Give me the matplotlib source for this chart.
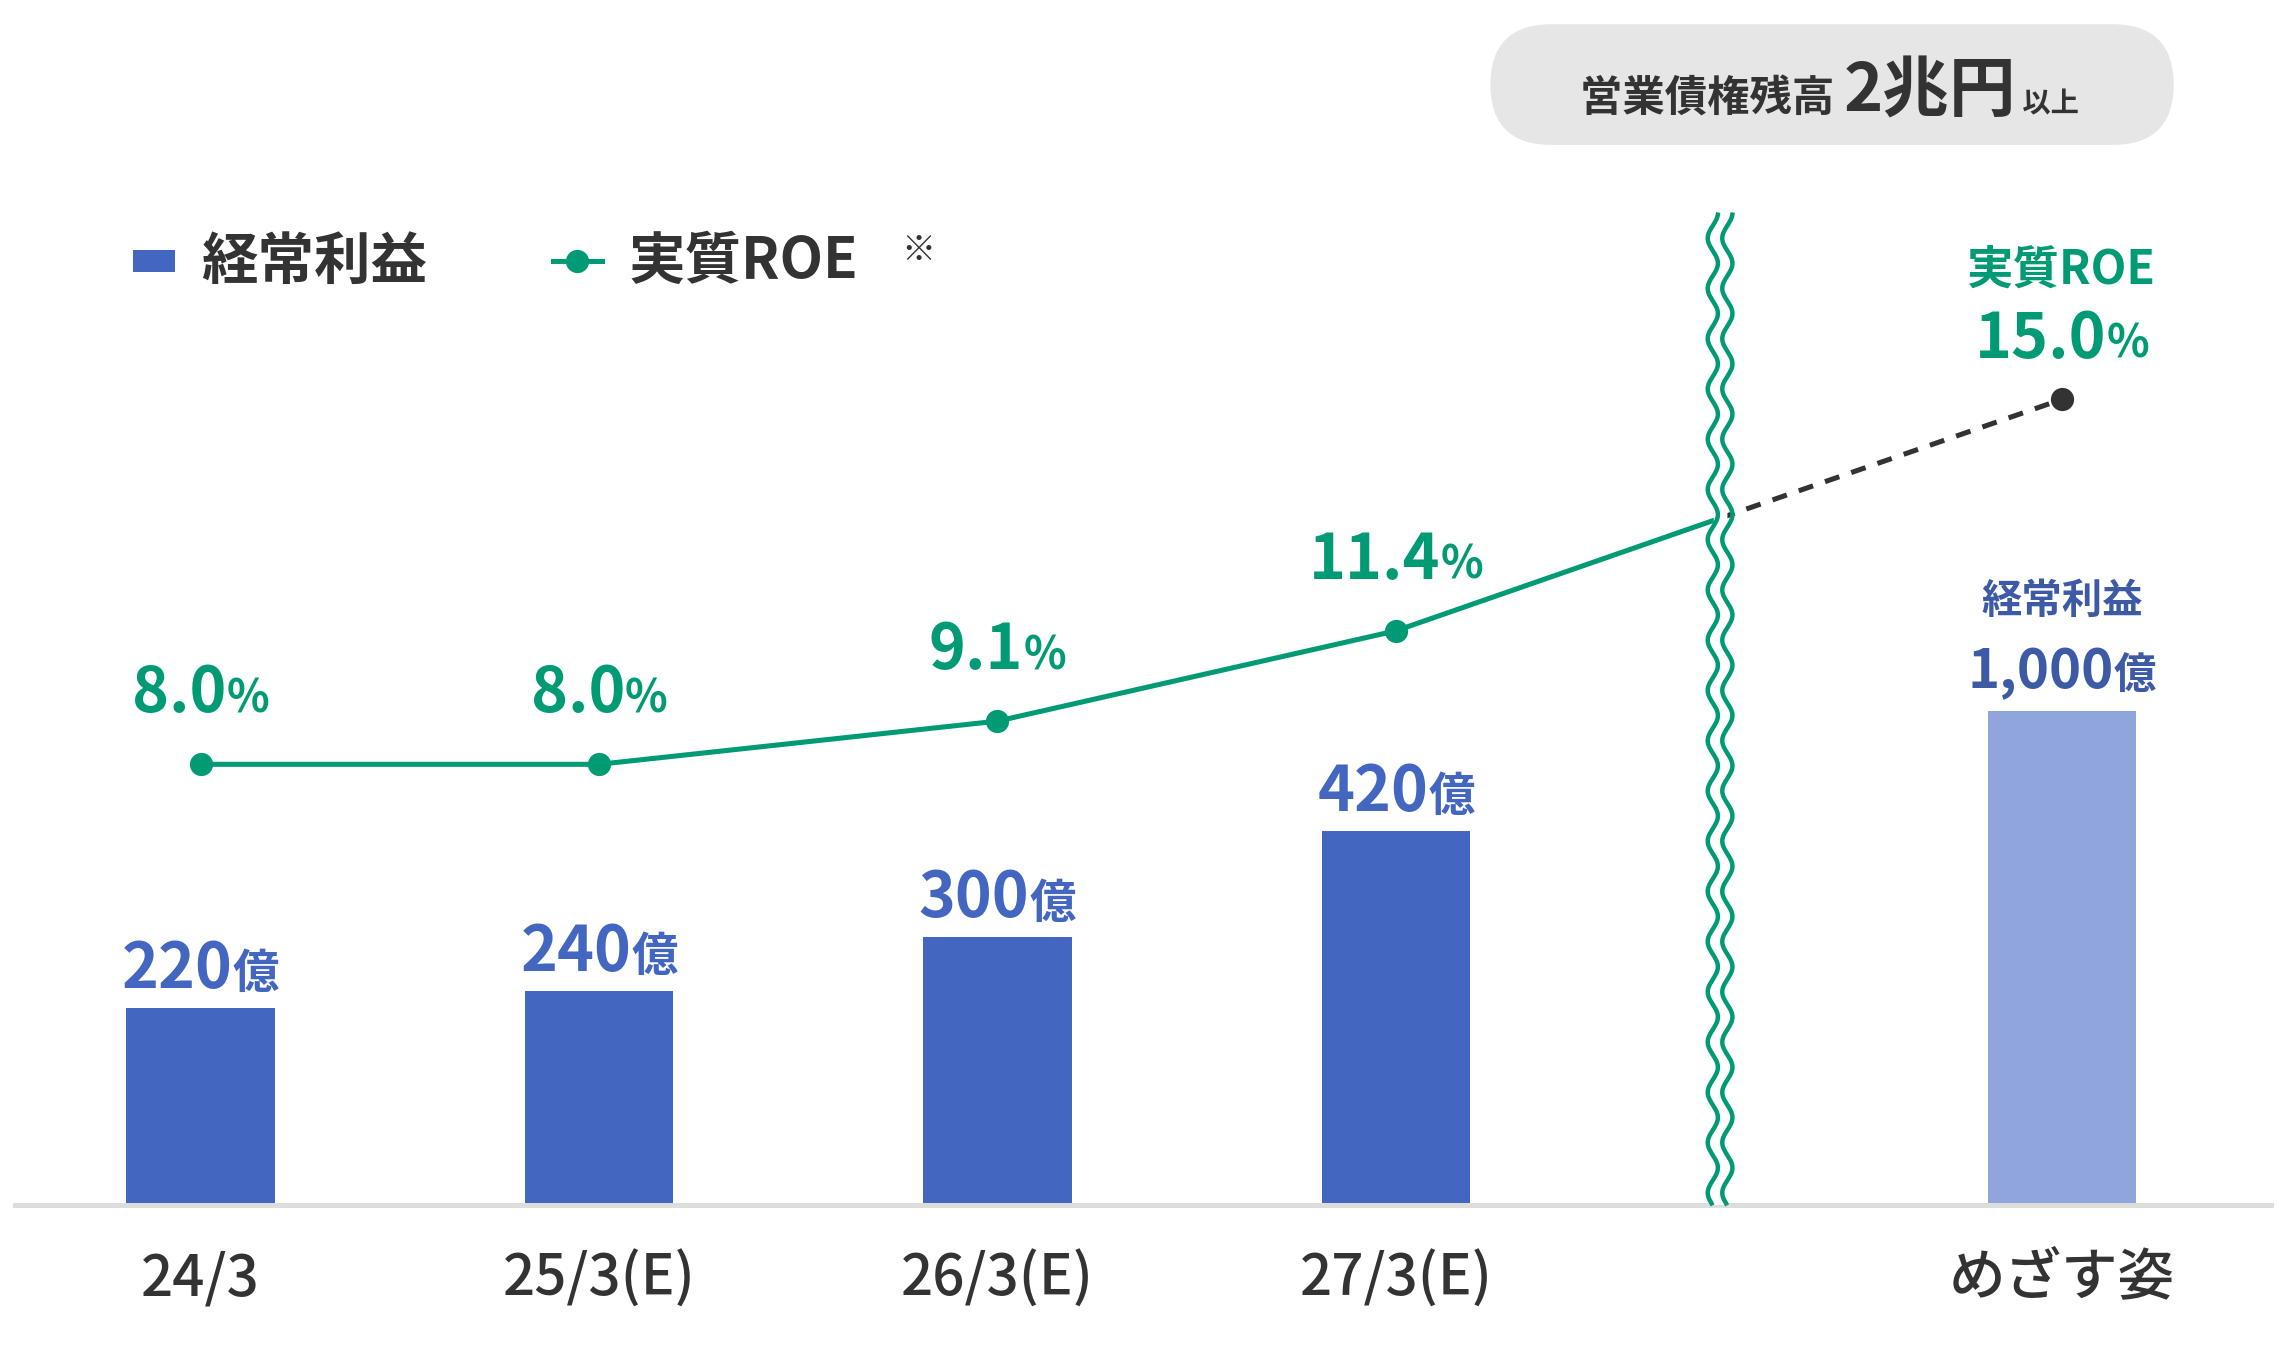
import matplotlib
matplotlib.use("Agg")
import matplotlib.pyplot as plt
import numpy as np
from matplotlib.patches import FancyBboxPatch

plt.rcParams['font.family'] = ['Noto Sans CJK JP', 'DejaVu Sans']

# データ
periods = ['24/3', '25/3(E)', '26/3(E)', '27/3(E)', 'めざす姿']
profit = [220, 240, 300, 420, 1000]       # 経常利益（億円）
roe = [8.0, 8.0, 9.1, 11.4, 15.0]         # 実質ROE（%）
profit_labels = ['220', '240', '300', '420', '1,000']

BLUE = '#4366c0'
LIGHT_BLUE = '#8fa5dc'
GREEN = '#009a74'
DARK = '#333333'

# 座標系（軸の切れ目があるため最後の値は圧縮して表示）
base_y = 828
bar_scale = 0.61
roe_zero = 742
roe_scale = 27.0
goal_compress = [1.0, 1.0, 1.0, 1.0, 0.555]
roe_compress = [1.0, 1.0, 1.0, 1.0, 1.153]
xs = [138, 412, 686, 960, 1418]
break_x = 1183

fig = plt.figure(figsize=(15.68, 9.35), dpi=145.4)
ax = fig.add_axes([0, 0, 1, 1])
ax.set_xlim(0, 1568)
ax.set_ylim(935, 0)
ax.axis('off')
fig.canvas.draw()
renderer = fig.canvas.get_renderer()


def mixed(x, y, parts, color, va='baseline'):
    """複数サイズの文字列を中央揃えで並べる"""
    texts = []
    for s, size, weight in parts:
        texts.append(ax.text(0, y, s, fontsize=size, fontweight=weight, color=color, va=va, ha='left'))
    widths = []
    for t in texts:
        bb = t.get_window_extent(renderer).transformed(ax.transData.inverted())
        widths.append(abs(bb.x1 - bb.x0))
    cur = x - sum(widths) / 2
    for t, w in zip(texts, widths):
        t.set_x(cur)
        cur += w


# 棒グラフ
bar_h = [p * bar_scale * c for p, c in zip(profit, goal_compress)]
colors = [BLUE] * 4 + [LIGHT_BLUE]
ax.bar(xs, bar_h, width=102, bottom=[base_y - h for h in bar_h], color=colors, zorder=2)
for i in range(4):
    top = base_y - bar_h[i]
    mixed(xs[i], top - 14, [(profit_labels[i], 31, 'bold'), ('億', 23, 'bold')], BLUE)
top = base_y - bar_h[4]
mixed(xs[4], top - 16, [(profit_labels[4], 27, 'bold'), ('億', 21, 'bold')], '#3c5aa6')
mixed(xs[4], top - 68, [('経常利益', 20, 'bold')], '#3c5aa6')

# 基準線
ax.plot([10, 1562], [base_y + 1, base_y + 1], color='#dddddd', lw=2.5, zorder=1)

# ROE折れ線
ry = [roe_zero - v * roe_scale * c for v, c in zip(roe, roe_compress)]
slope = (ry[4] - ry[3]) / (xs[4] - xs[3])
y_break = ry[3] + slope * (break_x - xs[3])
ax.plot(xs[:4] + [break_x], ry[:4] + [y_break], color=GREEN, lw=2.5, zorder=3)
ax.plot([break_x, xs[4]], [y_break, ry[4]], color=DARK, lw=2.5, ls=(0, (3, 2.5)), zorder=3)
ax.scatter(xs[:4], ry[:4], s=110, color=GREEN, zorder=4)
ax.scatter([xs[4]], [ry[4]], s=110, color=DARK, zorder=4)
for i in range(4):
    mixed(xs[i], ry[i] - 36, [(f'{roe[i]:.1f}', 31, 'bold'), ('%', 22, 'bold')], GREEN)
mixed(xs[4], 246, [(f'{roe[4]:.1f}', 31, 'bold'), ('%', 22, 'bold')], GREEN)
mixed(xs[4], 196, [('実質ROE', 23, 'bold')], GREEN)

# 波線（軸の切れ目）
yy = np.linspace(148, 828, 600)
for dx in (-5, 5):
    ax.plot(break_x + dx + 3.5 * np.sin(yy / 5.5), yy, color=GREEN, lw=2.2, zorder=5)
ax.fill_betweenx(yy, break_x - 4, break_x + 4, color='white', zorder=4)

# X軸ラベル
for x, p in zip(xs, periods):
    ax.text(x, 880, p, fontsize=28, fontweight='medium', color=DARK, ha='center', va='center')

# 凡例
ax.add_patch(plt.Rectangle((92, 173), 28, 14, color=BLUE))
ax.text(138, 180, '経常利益', fontsize=28, fontweight='bold', color=DARK, va='center')
ax.plot([380, 414], [180, 180], color=GREEN, lw=2.5)
ax.scatter([397], [180], s=110, color=GREEN, zorder=3)
ax.text(432, 180, '実質ROE', fontsize=28, fontweight='bold', color=DARK, va='center')
ax.text(620, 172, '※', fontsize=17, fontweight='bold', color=DARK, va='center')

# 上部の吹き出し
ax.add_patch(FancyBboxPatch((1025, 17), 470, 83, boxstyle='round,pad=0,rounding_size=42',
                            mutation_aspect=1, facecolor='#e6e6e6', edgecolor='none'))
mixed(1258, 77, [('営業債権残高 ', 21, 'bold'), ('2兆円', 33, 'bold'), (' 以上', 14, 'bold')], DARK)

fig.savefig('out.png', dpi=145.4)
